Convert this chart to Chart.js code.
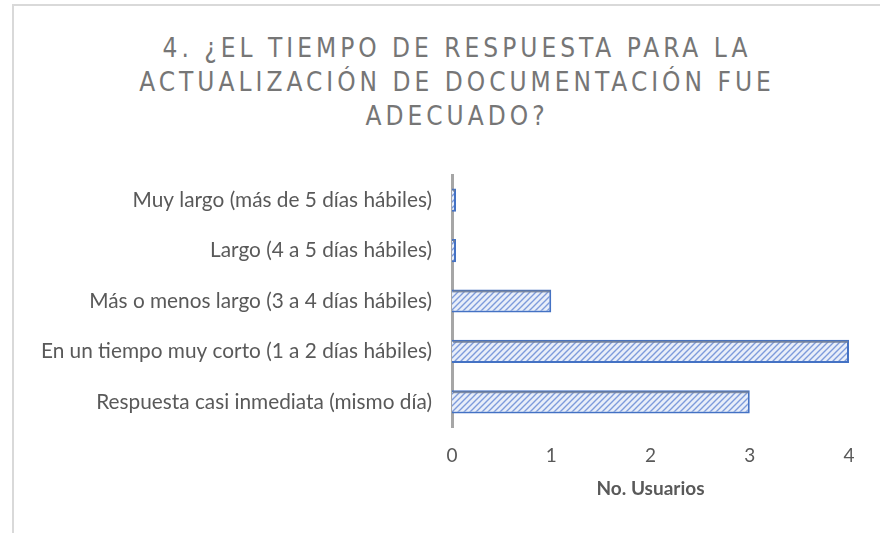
<!DOCTYPE html>
<html>
<head>
<meta charset="utf-8">
<script src="https://cdn.jsdelivr.net/npm/chart.js@4"></script>
<style>
  html, body { margin: 0; padding: 0; background: #fff; }
  #wrap { position: relative; width: 880px; height: 533px; overflow: hidden; }
  #frame {
    position: absolute; left: 12px; top: 4px; width: 900px; height: 560px;
    border-left: 2px solid #d9d9d9; border-top: 2px solid #d9d9d9;
  }
  #title {
    position: absolute; left: 2px; top: 31px; width: 910px; text-align: center;
    font-family: "Liberation Sans Narrow", "DejaVu Sans Condensed", sans-serif;
    font-size: 26px; line-height: 34px; letter-spacing: 4px; color: #767676;
  }
  canvas { position: absolute; left: 0; top: 0; }
</style>
</head>
<body>
<div id="wrap">
  <div id="frame"></div>
  <div id="title">4. ¿EL TIEMPO DE RESPUESTA PARA LA<br>ACTUALIZACIÓN DE DOCUMENTACIÓN FUE<br>ADECUADO?</div>
  <canvas id="respuestaChart" width="880" height="533"></canvas>
</div>
<script>
// categories from top to bottom, as in the picture
const categorias = [
    'Muy largo (más de 5 días hábiles)',
    'Largo (4 a 5 días hábiles)',
    'Más o menos largo (3 a 4 días hábiles)',
    'En un tiempo muy corto (1 a 2 días hábiles)',
    'Respuesta casi inmediata (mismo día)'
];
const usuarios = [0, 0, 1, 4, 3];
const ticksX = [0, 1, 2, 3, 4];
const tituloEje = 'No. Usuarios';

const textColor = '#595959';
const fontFamily = 'Lato, "Liberation Sans", sans-serif';

// diagonal hatch like the excel fill
function makeHatch() {
    const c = document.createElement('canvas');
    c.width = 6;
    c.height = 6;
    const g = c.getContext('2d');
    g.fillStyle = '#e8eef9';
    g.fillRect(0, 0, 6, 6);
    g.strokeStyle = '#7d9bdb';
    g.lineWidth = 1.4;
    g.beginPath();
    g.moveTo(-1, 7); g.lineTo(7, -1);
    g.moveTo(-4, 4); g.lineTo(4, -4);
    g.moveTo(2, 10); g.lineTo(10, 2);
    g.stroke();
    return g.createPattern(c, 'repeat');
}

// grey top face so bars look a bit 3d
const topFace = {
    id: 'topFace',
    afterDatasetsDraw(chart) {
        const ctx = chart.ctx;
        const meta = chart.getDatasetMeta(0);
        ctx.save();
        meta.data.forEach(function(bar) {
            const p = bar.getProps(['x', 'y', 'base', 'height'], true);
            const top = p.y - p.height / 2;
            ctx.fillStyle = 'rgba(110,125,150,0.85)';
            ctx.fillRect(p.base + 1, top + 1, p.x - p.base - 2, 2);
        });
        ctx.restore();
    }
};

const ctx = document.getElementById('respuestaChart');
ctx.chart = new Chart(ctx, {
    type: 'bar',
    data: {
        labels: categorias,
        datasets: [{
            data: usuarios,
            backgroundColor: makeHatch(),
            borderColor: '#4472c4',
            borderWidth: 2,
            minBarLength: 4,
            categoryPercentage: 0.46,
            barPercentage: 1
        }]
    },
    options: {
        indexAxis: 'y',
        responsive: false,
        animation: false,
        layout: { padding: { top: 175, right: 31, bottom: 29, left: 0 } },
        plugins: {
            legend: { display: false },
            tooltip: { enabled: false }
        },
        scales: {
            x: {
                min: 0,
                max: 4,
                afterBuildTicks(scale) {
                    scale.ticks = ticksX.map(v => ({ value: v }));
                },
                afterFit(scale) { scale.height = 77; },
                grid: { display: false, drawTicks: false },
                border: { display: false },
                ticks: {
                    color: textColor,
                    padding: 17,
                    font: { family: fontFamily, size: 19 }
                },
                title: {
                    display: true,
                    text: tituloEje,
                    color: textColor,
                    padding: { top: 12, bottom: 4 },
                    font: { family: fontFamily, size: 19, weight: 'bold' }
                }
            },
            y: {
                afterFit(scale) { scale.width = 452; },
                grid: { display: false, drawTicks: false },
                border: { display: true, color: '#a6a6a6', width: 3 },
                ticks: {
                    color: textColor,
                    padding: 20,
                    font: { family: fontFamily, size: 20.8 }
                }
            }
        }
    },
    plugins: [topFace]
});
</script>
</body>
</html>
